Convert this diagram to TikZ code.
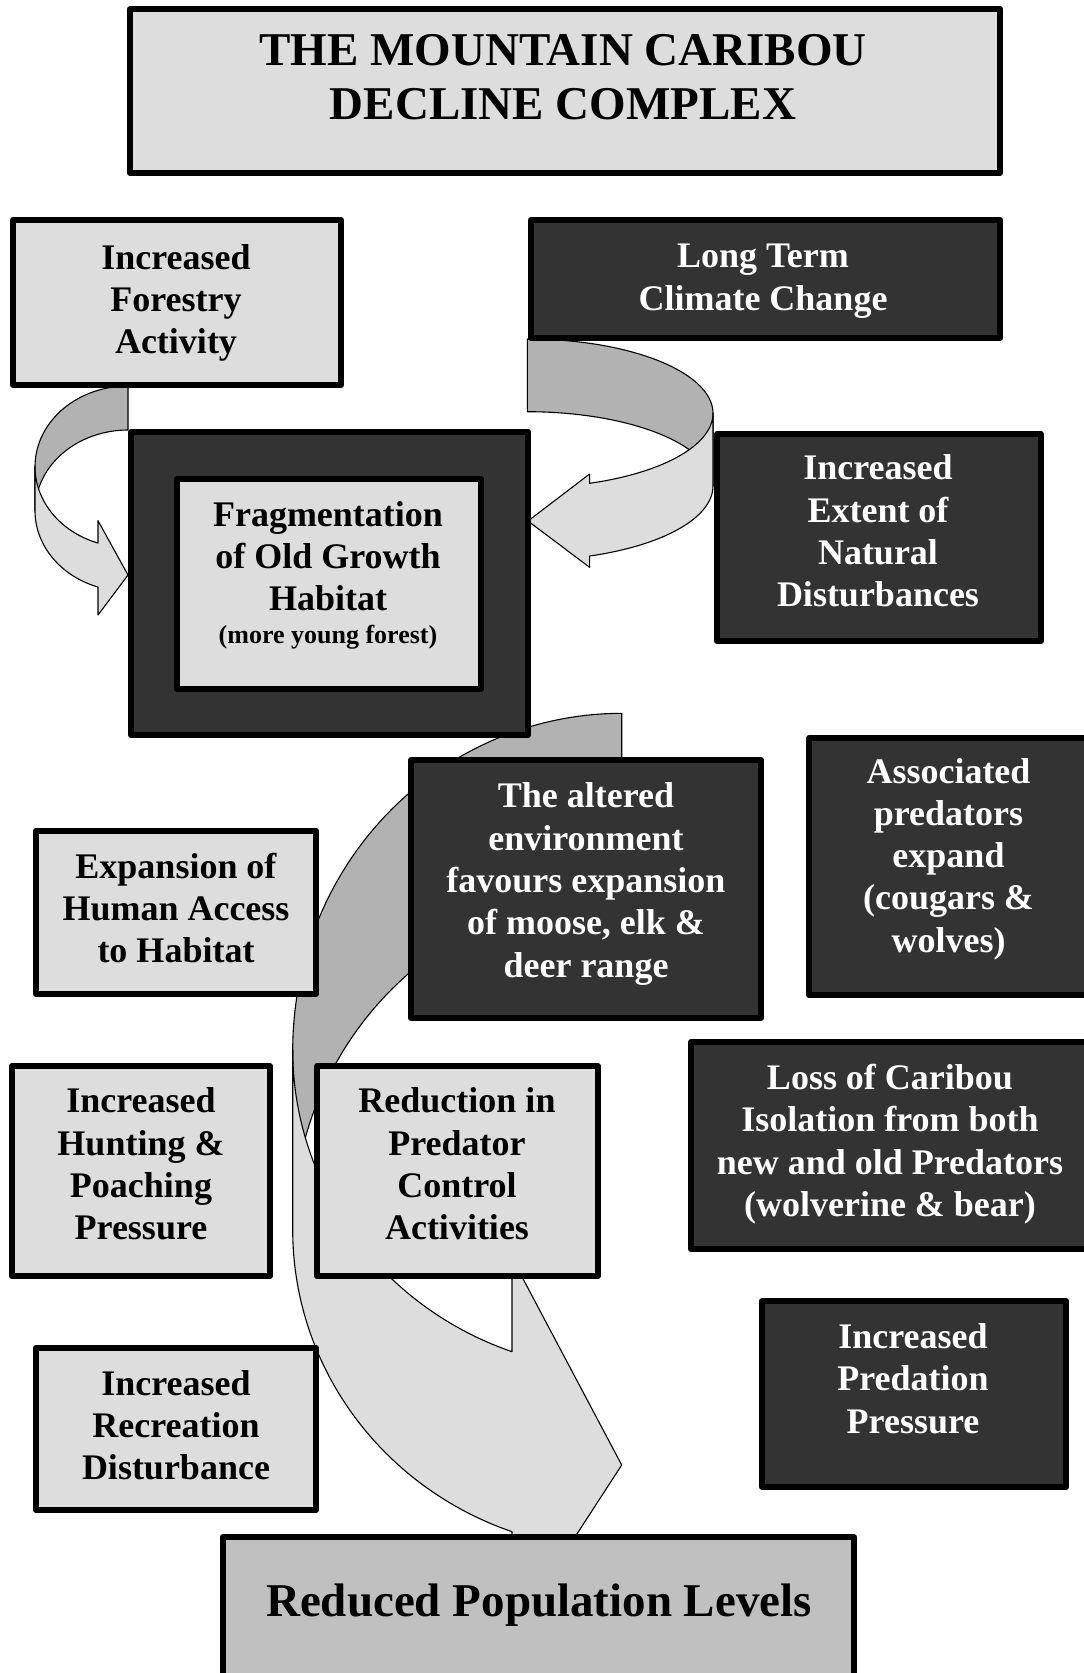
\documentclass[tikz,border=0pt]{standalone}
\usepackage{fontspec}
\setmainfont{Liberation Serif}
\definecolor{lightfill}{HTML}{DDDDDD}
\definecolor{darkfill}{HTML}{333333}
\definecolor{backfill}{HTML}{B2B2B2}
\definecolor{bottomfill}{HTML}{C0C0C0}
\begin{document}
\begin{tikzpicture}[x=1pt,y=-1pt,
  box/.style={rectangle, draw=black, line width=6pt, line join=round, inner sep=0pt, outer sep=0pt},
  lightbox/.style={box, fill=lightfill},
  darkbox/.style={box, fill=darkfill},
  txt/.style={align=center, inner sep=0pt, font=\fontsize{36}{42.3}\selectfont\bfseries},
  dtxt/.style={txt, text=white},
  ltxt/.style={txt, text=black},
  bigtxt/.style={align=center, inner sep=0pt, font=\fontsize{47}{54.4}\selectfont\bfseries},
  smalltxt/.style={align=center, inner sep=0pt, font=\fontsize{26}{30}\selectfont\bfseries},
  backband/.style={draw=black, line width=1.1pt, line join=round, fill=backfill},
  frontband/.style={draw=black, line width=1.1pt, line join=round, fill=lightfill},
]
\useasboundingbox (0,0) rectangle (1084,1673);
\clip (0,0) rectangle (1084,1673);
\fill[white] (0,0) rectangle (1084,1673);

% ---- left curved arrow (forestry -> fragmentation)
\path[backband] plot[domain=270:180, samples=40, variable=\t] ({128+93*cos(\t)},{466.7+80.7*sin(\t)})
  -- plot[domain=180:270, samples=40, variable=\t] ({128+93*cos(\t)},{510.7+80.7*sin(\t)}) -- cycle;
\path[frontband] plot[domain=180:108.82, samples=40, variable=\t] ({128+93*cos(\t)},{466.7+80.7*sin(\t)})
  -- (98,520.7) -- (128,575) -- (98,615)
  -- plot[domain=108.82:180, samples=40, variable=\t] ({128+93*cos(\t)},{510.7+80.7*sin(\t)}) -- cycle;

% ---- right curved arrow (climate -> fragmentation)
\path[backband] plot[domain=270:360, samples=40, variable=\t] ({527.4+185.6*cos(\t)},{413.3+74.3*sin(\t)})
  -- plot[domain=360:270, samples=40, variable=\t] ({527.4+185.6*cos(\t)},{486+74.3*sin(\t)}) -- cycle;
\path[frontband] plot[domain=0:70.42, samples=40, variable=\t] ({527.4+185.6*cos(\t)},{413.3+74.3*sin(\t)})
  -- (589.6,474) -- (528,521) -- (589.6,567.3)
  -- plot[domain=70.42:0, samples=40, variable=\t] ({527.4+185.6*cos(\t)},{486+74.3*sin(\t)}) -- cycle;

% ---- big curved arrow (down to reduced population)
\path[backband] plot[domain=270:180, samples=60, variable=\t] ({621.7+329*cos(\t)},{1050+336.7*sin(\t)})
  -- plot[domain=180:270, samples=60, variable=\t] ({621.7+329*cos(\t)},{1230+336.7*sin(\t)}) -- cycle;
\path[frontband] plot[domain=180:109.48, samples=60, variable=\t] ({621.7+329*cos(\t)},{1050+320*sin(\t)})
  -- (512,1258) -- (621.7,1465) -- (512,1634)
  -- plot[domain=109.48:180, samples=60, variable=\t] ({621.7+329*cos(\t)},{1230+320*sin(\t)}) -- cycle;

% ---- boxes
\node[lightbox, minimum width=870pt, minimum height=164pt] (titlebox) at (565,91) {};
\node[lightbox, minimum width=328pt, minimum height=165pt] (forestbox) at (177,302.5) {};
\node[darkbox, minimum width=469pt, minimum height=118pt] (climatebox) at (765.5,279) {};
\node[darkbox, minimum width=397pt, minimum height=303pt] (fragouter) at (329.5,583.5) {};
\node[lightbox, minimum width=304pt, minimum height=210pt] (fraginner) at (329,584) {};
\node[darkbox, minimum width=324pt, minimum height=207pt] (naturalbox) at (879,537.5) {};
\node[darkbox, minimum width=350pt, minimum height=258pt] (alteredbox) at (586,889) {};
\node[darkbox, minimum width=301pt, minimum height=257pt] (assocbox) at (959.5,866.5) {};
\node[darkbox, minimum width=419pt, minimum height=207pt] (lossbox) at (900.5,1145.5) {};
\node[darkbox, minimum width=304pt, minimum height=186pt] (predbox) at (914,1394) {};
\node[lightbox, minimum width=280pt, minimum height=163pt] (expanbox) at (176,912.5) {};
\node[lightbox, minimum width=258pt, minimum height=210pt] (huntbox) at (141,1171) {};
\node[lightbox, minimum width=281pt, minimum height=210pt] (reducbox) at (457.5,1171) {};
\node[lightbox, minimum width=280pt, minimum height=162pt] (recrbox) at (176,1429) {};
\node[box, fill=bottomfill, minimum width=631pt, minimum height=173pt] (reducedbox) at (538.5,1623.5) {};

% ---- texts
\node[bigtxt] (titletext) at (563,77.3) {THE MOUNTAIN CARIBOU\\DECLINE COMPLEX};
\node[ltxt] (foresttext) at (176,302.7) {Increased\\Forestry\\Activity};
\node[dtxt] (climatetext) at (763,281.3) {Long Term\\Climate Change};
\node[ltxt] (fragtext) at (328,556) {Fragmentation\\of Old Growth\\Habitat};
\node[smalltxt] (fragsmall) at (328,637) {(more young forest)};
\node[dtxt] (naturaltext) at (878,531) {Increased\\Extent of\\Natural\\Disturbances};
\node[dtxt] (alteredtext) at (586,884) {The altered\\environment\\favours expansion\\of moose, elk \&\\deer range};
\node[dtxt] (assoctext) at (948.5,859) {Associated\\predators\\expand\\(cougars \&\\wolves)};
\node[dtxt] (losstext) at (890,1144) {Loss of Caribou\\Isolation from both\\new and old Predators\\(wolverine \& bear)};
\node[dtxt] (predtext) at (913,1378.5) {Increased\\Predation\\Pressure};
\node[ltxt] (expantext) at (176,908) {Expansion of\\Human Access\\to Habitat};
\node[ltxt] (hunttext) at (141,1164) {Increased\\Hunting \&\\Poaching\\Pressure};
\node[ltxt] (reductext) at (457,1164) {Reduction in\\Predator\\Control\\Activities};
\node[ltxt] (recrtext) at (176,1425.4) {Increased\\Recreation\\Disturbance};
\node[bigtxt] (reducedtext) at (539,1605.4) {Reduced Population Levels};
\end{tikzpicture}
\end{document}
